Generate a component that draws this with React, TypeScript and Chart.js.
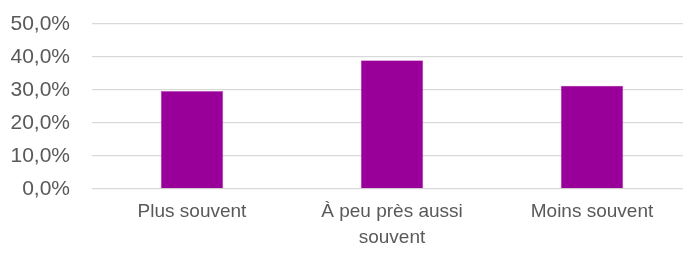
import React, { useEffect, useRef } from "react";
import { Chart, registerables } from "chart.js";

Chart.register(...registerables);

const categories: (string | string[])[] = ["Plus souvent", ["À peu près aussi", "souvent"], "Moins souvent"];
const values: number[] = [29.7, 39.0, 31.3];
const yMin = 0;
const yMax = 50;
const yStep = 10;

export default function App() {
  const ref = useRef<HTMLCanvasElement | null>(null);
  useEffect(() => {
    if (!ref.current) return;
    const chart = new Chart(ref.current, {
      type: "bar",
      data: {
        labels: categories,
        datasets: [
          {
            data: values,
            backgroundColor: "#990099",
            borderColor: "#c266c2",
            borderWidth: 0.6,
            barPercentage: 0.3125,
            categoryPercentage: 1,
          },
        ],
      },
      options: {
        animation: false,
        responsive: false,
        maintainAspectRatio: false,
        layout: { autoPadding: false, padding: { top: 24, right: 8, bottom: 0, left: 0 } },
        plugins: { legend: { display: false }, tooltip: { enabled: false } },
        scales: {
          x: {
            grid: { display: false, drawTicks: false },
            border: { display: false },
            ticks: {
              color: "#595959",
              font: { family: "Liberation Sans", size: 19, lineHeight: 1.37 },
              padding: 10,
              maxRotation: 0,
              autoSkip: false,
            },
            afterFit: (s: any) => {
              s.height = 70;
            },
          },
          y: {
            min: yMin,
            max: yMax,
            grid: { color: "#d9d9d9", lineWidth: 1.3, drawTicks: false },
            border: { display: false },
            ticks: {
              stepSize: yStep,
              color: "#595959",
              font: { family: "Liberation Sans", size: 21 },
              padding: 22,
              callback: (v: any) => Number(v).toFixed(1).replace(".", ",") + "%",
            },
            afterFit: (s: any) => {
              s.width = 92;
              s.paddingTop = 0;
              s.paddingBottom = 0;
            },
          },
        },
      },
    });
    return () => chart.destroy();
  }, []);
  return (
    <div style={{ position: "fixed", left: 0, top: 0, width: 683, height: 259, overflow: "hidden", background: "#fff" }}>
      <canvas ref={ref} width={700} height={259} style={{ display: "block", width: 700, height: 259 }} />
    </div>
  );
}
